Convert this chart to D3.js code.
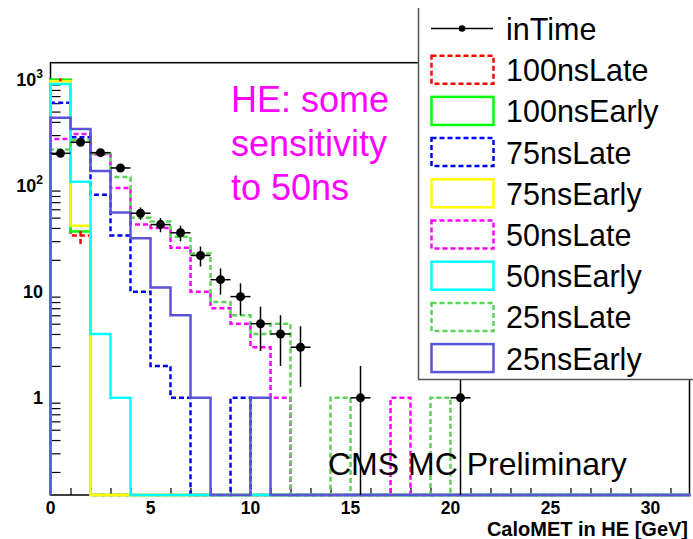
<!DOCTYPE html>
<html><head><meta charset="utf-8">
<script src="https://cdn.jsdelivr.net/npm/d3@7"></script>
<style>body{margin:0;background:#fff}svg{display:block}</style>
</head><body>
<svg id="c" width="693" height="539"></svg>
<script>
// ---- data (bin low edges, 1 GeV bins) ----
const binLow = [0,1,2,3,4,5,6,7,8,9,10,11,12,13,14,15,16,17,18,19,20,21,22,23,24,25,26,27,28,29,30,31];
const inTime    = [202,257,205,147,55,43,36,22,13,9,5,4,3,0,0,1,0,0,0,0,1,0,0,0,0,0,0,0,0,0,0,0];
const late100   = [995,34,0,0,0,0,0,0,0,0,0,0,0,0,0,0,0,0,0,0,0,0,0,0,0,0,0,0,0,0,0,0];
const early100  = [1000,37,0,0,0,0,0,0,0,0,0,0,0,0,0,0,0,0,0,0,0,0,0,0,0,0,0,0,0,0,0,0];
const late75    = [607,286,82,34,10,2,1,0,0,1,0,0,0,0,0,0,0,0,0,0,0,0,0,0,0,0,0,0,0,0,0,0];
const early75   = [965,42,0,0,0,0,0,0,0,0,0,0,0,0,0,0,0,0,0,0,0,0,0,0,0,0,0,0,0,0,0,0];
const late50    = [276,307,198,95,43,40,26,10,7,5,3,1,0,0,0,0,0,1,0,0,0,0,0,0,0,0,0,0,0,0,0,0];
const early50   = [911,109,4,1,0,0,0,0,0,0,0,0,0,0,0,0,0,0,0,0,0,0,0,0,0,0,0,0,0,0,0,0];
const late25    = [220,270,200,121,50,46,33,23,8,6,4,5,0,0,1,0,0,0,0,1,0,0,0,0,0,0,0,0,0,0,0,0];
const early25   = [438,343,138,56,32,11,6,1,0,0,1,0,0,0,0,0,0,0,0,0,0,0,0,0,0,0,0,0,0,0,0,0];

const seriesNames = ["100nsLate","100nsEarly","75nsLate","75nsEarly","50nsLate","50nsEarly","25nsLate","25nsEarly"];
const seriesData  = [late100, early100, late75, early75, late50, early50, late25, early25];
const seriesColor = ["#ff0000","#00ff00","#0000ff","#ffff00","#ff00ff","#00ffff","#59d454","#5954d8"];
const seriesDash  = [true,false,true,false,true,false,true,false];

const xMajor = [0,5,10,15,20,25,30];
const xMinor = [1,2,3,4,6,7,8,9,11,12,13,14,16,17,18,19,21,22,23,24,26,27,28,29,31];
const yMajor = [1,10,100,1000];
const yMajorLabel = [["1",""],["10",""],["10","2"],["10","3"]];
const yMinor = [0.2,0.3,0.4,0.5,0.6,0.7,0.8,0.9,2,3,4,5,6,7,8,9,20,30,40,50,60,70,80,90,200,300,400,500,600,700,800,900];
const annotation = ["HE: some","sensitivity","to 50ns"];

// ---- layout ----
const svg = d3.select("#c");
const L = 50.5, R = 690.5, T = 62.7, B = 495;
const x = d3.scaleLinear().domain([0,32]).range([L,R]);
const y = d3.scaleLog().domain([0.1213,1445]).range([B,T]);
const ymin = y.domain()[0];
const dash = "5,3";
const font = "'Liberation Sans', Arial, Helvetica, sans-serif";

// axes ticks
const gy = svg.append("g").attr("transform",`translate(${L},0)`);
gy.call(d3.axisLeft(y).tickValues(yMajor).tickSize(-19).tickFormat("")).call(g=>g.select(".domain").remove());
gy.call(d3.axisLeft(y).tickValues(yMinor).tickSize(-10).tickFormat("")).call(g=>g.select(".domain").remove());
const gx = svg.append("g").attr("transform",`translate(0,${B})`);
gx.call(d3.axisBottom(x).tickValues(xMajor).tickSize(-13).tickFormat("")).call(g=>g.select(".domain").remove());
gx.call(d3.axisBottom(x).tickValues(xMinor).tickSize(-7).tickFormat("")).call(g=>g.select(".domain").remove());
svg.selectAll(".tick line").attr("stroke","#000").attr("stroke-width",1.2);

// frame
svg.append("rect").attr("x",L).attr("y",T).attr("width",R-L-1).attr("height",B-T)
  .attr("fill","none").attr("stroke","#000").attr("stroke-width",1.5);

// histograms
const line = d3.line().curve(d3.curveStepAfter)
  .x(d=>x(d[0])).y(d=>y(Math.max(d[1],ymin)));
seriesData.forEach((vals,i)=>{
  const pts = binLow.map((b,k)=>[b, vals[k]]);
  pts.push([32, vals[vals.length-1]]);
  pts.unshift([0, 0]);
  svg.append("path").attr("d",line(pts)).attr("fill","none")
    .attr("stroke",seriesColor[i]).attr("stroke-width",2.5)
    .attr("stroke-dasharray",seriesDash[i]?dash:null);
});
// 100nsLate error bars
late100.forEach((v,k)=>{
  if(v<=0) return;
  const e = Math.sqrt(v);
  svg.append("line").attr("x1",x(binLow[k]+0.5)).attr("x2",x(binLow[k]+0.5))
    .attr("y1",y(Math.max(v-e,ymin))).attr("y2",y(v+e))
    .attr("stroke","#ff0000").attr("stroke-width",2.5).attr("stroke-dasharray",dash);
});

// inTime points with errors
const gp = svg.append("g");
inTime.forEach((v,k)=>{
  if(v<=0) return;
  const e = Math.sqrt(v), cx = x(binLow[k]+0.5);
  gp.append("line").attr("x1",cx).attr("x2",cx)
    .attr("y1",y(Math.max(v-e,ymin))).attr("y2",y(v+e)).attr("stroke","#000").attr("stroke-width",1.5);
  gp.append("line").attr("x1",x(binLow[k])).attr("x2",x(binLow[k]+1))
    .attr("y1",y(v)).attr("y2",y(v)).attr("stroke","#000").attr("stroke-width",1.5);
  gp.append("circle").attr("cx",cx).attr("cy",y(v)).attr("r",4.5).attr("fill","#000");
});

// tick labels
xMajor.forEach(v=>{
  svg.append("text").attr("x",x(v)).attr("y",513.5).attr("text-anchor","middle")
    .attr("font-family",font).attr("font-weight","bold").attr("font-size",17.5).text(v);
});
yMajor.forEach((v,i)=>{
  const t = svg.append("text").attr("x",43).attr("y",y(v)+6.5).attr("text-anchor","end")
    .attr("font-family",font).attr("font-weight","bold").attr("font-size",18);
  t.append("tspan").text(yMajorLabel[i][0]);
  if(yMajorLabel[i][1]) t.append("tspan").attr("dy",-8).attr("font-size",12).text(yMajorLabel[i][1]);
});
svg.append("text").attr("x",688).attr("y",536).attr("text-anchor","end")
  .attr("font-family",font).attr("font-weight","bold").attr("font-size",20).text("CaloMET in HE [GeV]");

// annotations
annotation.forEach((s,i)=>{
  svg.append("text").attr("x",231).attr("y",112+44*i).attr("fill","#ff00ff")
    .attr("font-family",font).attr("font-size",36).text(s);
});
svg.append("text").attr("x",328).attr("y",475).attr("fill","#000")
  .attr("font-family",font).attr("font-size",32).text("CMS MC Preliminary");

// legend
const lg = svg.append("g");
lg.append("rect").attr("x",418).attr("y",8).attr("width",280).attr("height",371).attr("fill","#fff");
lg.append("path").attr("d","M418.5,8V379.5H693").attr("fill","none").attr("stroke","#555").attr("stroke-width",1.5);
const ly = i => 28.5 + 41.2*i;
const legNames = ["inTime"].concat(seriesNames);
legNames.forEach((n,i)=>{
  const cy = ly(i);
  if(i===0){
    lg.append("line").attr("x1",431).attr("x2",493).attr("y1",cy).attr("y2",cy).attr("stroke","#000").attr("stroke-width",1.5);
    lg.append("circle").attr("cx",462).attr("cy",cy).attr("r",3.3).attr("fill","#000");
  } else {
    lg.append("rect").attr("x",431.5).attr("y",cy-14).attr("width",62).attr("height",28)
      .attr("fill","none").attr("stroke",seriesColor[i-1]).attr("stroke-width",2.5)
      .attr("stroke-dasharray",seriesDash[i-1]?dash:null);
  }
  lg.append("text").attr("x",506).attr("y",cy+11.5).attr("font-family",font).attr("font-size",30.5).text(n);
});
</script>
</body></html>
